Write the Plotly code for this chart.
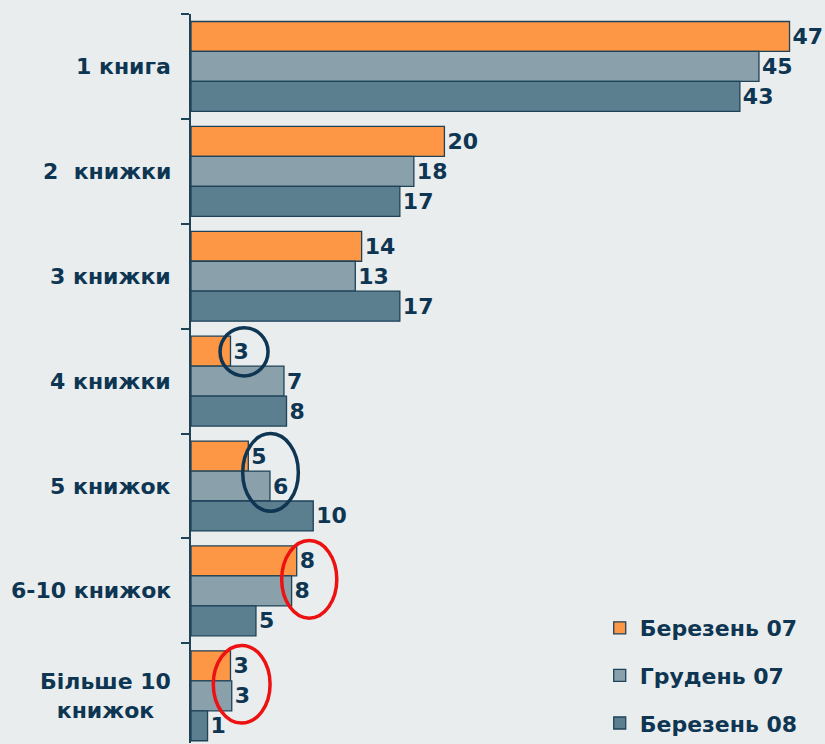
import plotly.graph_objects as go

categories = ["1 книга", "2\u00a0 книжки", "3 книжки", "4 книжки", "5 книжок", "6-10 книжок", "Більше 10<br>книжок"]
series_names = ["Березень 07", "Грудень 07", "Березень 08"]

# bar lengths
mar07 = [47.0, 19.9, 13.4, 3.1, 4.5, 8.3, 3.1]
dec07 = [44.6, 17.5, 12.9, 7.3, 6.2, 7.9, 3.2]
mar08 = [43.1, 16.4, 16.4, 7.5, 9.6, 5.1, 1.3]

# printed labels
mar07_lbl = [47, 20, 14, 3, 5, 8, 3]
dec07_lbl = [45, 18, 13, 7, 6, 8, 3]
mar08_lbl = [43, 17, 17, 8, 10, 5, 1]

colors = ["#FD9645", "#8AA0AA", "#5B7F8E"]
navy = "#0E3652"
outline = "#1E4258"
bg = "#E9EDEE"
font_family = "DejaVu Sans"
fs = 22

fig = go.Figure()
for name, vals, lbls, col in zip(series_names, [mar07, dec07, mar08],
                                 [mar07_lbl, dec07_lbl, mar08_lbl], colors):
    fig.add_trace(go.Bar(
        name=name, y=categories, x=vals, orientation="h",
        marker=dict(color=col, line=dict(color=outline, width=1.3)),
        text=[str(v) for v in lbls], textposition="outside",
        textfont=dict(family=font_family, size=fs, color=navy, weight="bold"),
        constraintext="none", cliponaxis=False, legendgroup=name,
    ))

# category labels (centered multi-line, right-aligned block)
for c in categories:
    fig.add_annotation(x=0, y=c, xref="x", yref="y", text=c, showarrow=False,
                       xanchor="right", align="center", xshift=-18,
                       font=dict(family=font_family, size=fs, color=navy, weight="bold"))

# highlight ellipses (value units, category index)
ellipses = [
    (2.28, 6.05, 2.49, 2.95, navy),
    (4.06, 8.43, 3.50, 4.24, navy),
    (7.12, 11.45, 4.52, 5.26, "#EE1111"),
    (1.75, 6.21, 5.52, 6.26, "#EE1111"),
]
for x0, x1, y0, y1, col in ellipses:
    fig.add_shape(type="circle", xref="x", yref="y", x0=x0, x1=x1, y0=y0, y1=y1,
                  line=dict(color=col, width=3.5), layer="above")

fig.update_layout(
    width=825, height=744,
    margin=dict(l=191, r=10, t=14, b=0),
    paper_bgcolor=bg, plot_bgcolor=bg,
    barmode="group", bargap=0.143, bargroupgap=0,
    showlegend=True,
    legend=dict(x=0.655, y=0.187, xanchor="left", yanchor="top",
                traceorder="grouped", tracegroupgap=16,
                font=dict(family=font_family, size=fs, color=navy, weight="bold"),
                bgcolor="rgba(0,0,0,0)"),
    xaxis=dict(range=[0, 49], visible=False, showgrid=False, zeroline=False),
    yaxis=dict(type="category", categoryorder="array", categoryarray=categories,
               range=[6.45, -0.5], autorange=False,
               showticklabels=False, ticks="outside", tickson="boundaries",
               ticklen=8, tickwidth=2, tickcolor=outline,
               showline=True, linecolor=outline, linewidth=2, showgrid=False,
               zeroline=False),
)

fig.write_html(
    "out.html",
    config={"displayModeBar": False},
    post_script="document.body.style.margin='0';document.body.style.overflow='hidden';"
                "document.body.style.background='" + bg + "';",
)
